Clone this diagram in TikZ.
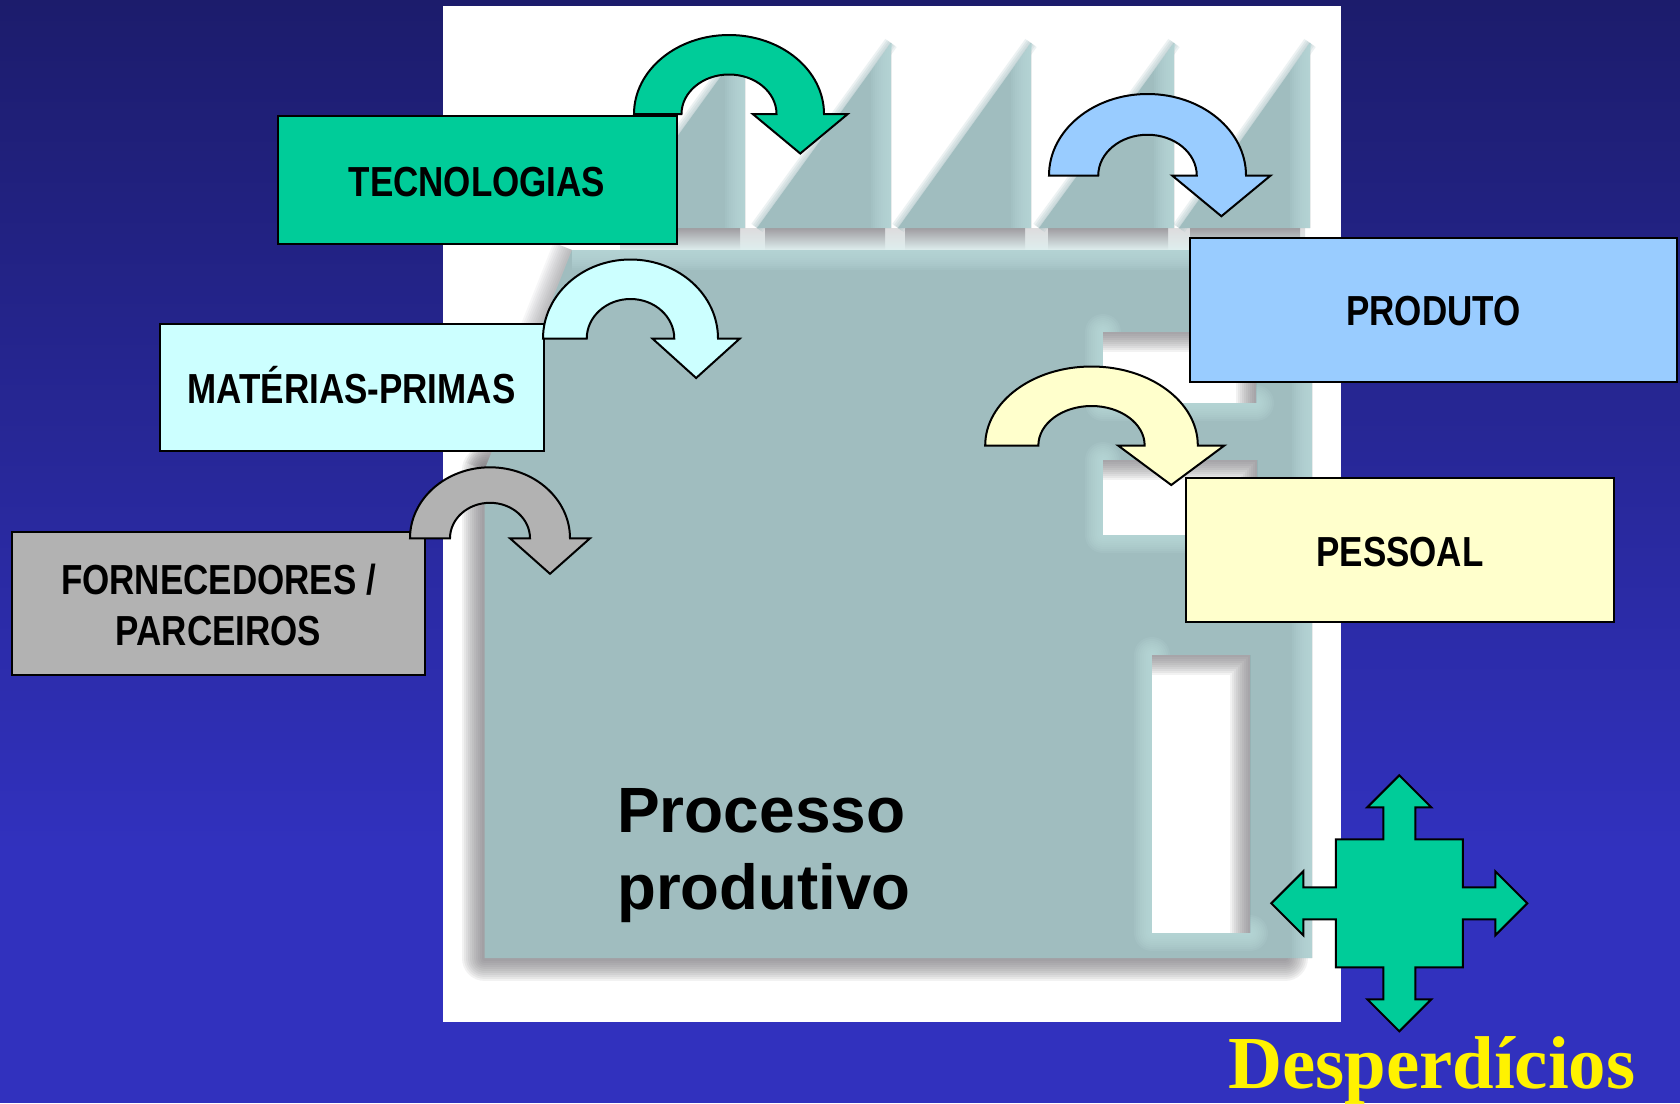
\documentclass[tikz,border=0pt]{standalone}
\usepackage{fontspec}
\setmainfont{Liberation Sans}
\newfontfamily\serifbold{Liberation Serif}[BoldFont={* Bold}]
\definecolor{bgtop}{RGB}{28,28,108}
\definecolor{bgbot}{RGB}{49,49,190}
\definecolor{factmain}{RGB}{160,189,191}
\definecolor{factlight}{RGB}{190,222,222}
\definecolor{factshade}{RGB}{118,114,120}
\definecolor{cgreen}{RGB}{0,204,153}
\definecolor{ccyan}{RGB}{204,255,255}
\definecolor{cgray}{RGB}{178,178,178}
\definecolor{cblue}{RGB}{153,204,255}
\definecolor{cyell}{RGB}{255,255,204}
\tikzset{
  boxnode/.style={draw=black,line width=2pt,inner sep=0pt,outer sep=0pt,text=black,
    font=\fontsize{42}{50.5}\selectfont\bfseries,align=center},
  oneline/.style={text height=32pt,text depth=0pt},
  arrowline/.style={draw=black,line width=2pt,line join=miter},
}
\newcommand\narrow[1]{\scalebox{0.833}[1]{#1}}
\newcommand\wideblur{46,42,38,34,30,26,22,18,14,10,6}
\newcommand\midblur{40,36,32,28,24,20,16,12,8,4}
\newcommand\haloblur{36,32,28,24,20,16,12,8,4}
\newcommand\toothblur{14,10,6,2}
% colour, macro holding the widths, opacity, cap, path
\newcommand\softstroke[5]{%
  \foreach \w in #2 {\draw[#1,line width=\w pt,opacity=#3,line join=round,line cap=#4] #5;}}
% a tooth of the roof: left x, right x
\newcommand\tooth[2]{%
  \softstroke{factmain}{\toothblur}{0.2}{butt}{(#1,-228) -- (#2,-43)}
  \fill[factmain] (#1,-228) -- (#2,-43) -- (#2,-228) -- cycle;
  \begin{scope}
    \clip (#1,-228) -- (#2,-43) -- (#2,-228) -- cycle;
    \softstroke{factlight}{\midblur}{0.13}{butt}{(#2,-43) -- (#2,-228)}
  \end{scope}}
% base shadow of a tooth
\newcommand\toothshade[2]{%
  \shade[top color=factshade!70!white,bottom color=factlight!50!white] (#1,-228) rectangle (#2,-250);}
% window: left, top, right, bottom
\newcommand\windowhole[4]{%
  \softstroke{factlight}{\haloblur}{0.14}{round}{(#1,-#2) -- (#1,-#4) -- (#3,-#4)}
  \fill[white] (#1,-#2) rectangle (#3,-#4);
  \begin{scope}
    \clip (#1,-#2) rectangle (#3,-#4);
    \softstroke{factshade}{\midblur}{0.09}{butt}{(#1,-#2) -- (#3,-#2) -- (#3,-#4)}
  \end{scope}}
% fill colour, centre x, base y, x radius, y radius
\newcommand\bentarrow[5]{%
  \begin{scope}[shift={(#2,-#3)},xscale=#4,yscale=#5]
    \path[arrowline,fill=#1] (-1,0) arc[start angle=180,end angle=0,radius=1]
      -- (1.25,0) -- (0.75,-0.5) -- (0.25,0) -- (0.5,0)
      arc[start angle=0,end angle=180,radius=0.5] -- cycle;
  \end{scope}}
\begin{document}
\begin{tikzpicture}[x=1pt,y=1pt]
\useasboundingbox (0,0) rectangle (1680,-1103);
% background
\fill[bgbot] (0,-850) rectangle (1680,-1103);
\shade[top color=bgtop,bottom color=bgbot,shading angle=0] (0,0) rectangle (1680,-851);
% sheet
\fill[white] (443,-6) rectangle (1341,-1022);
% factory: soft drop shadows
\begin{scope}
  \clip (443,-6) rectangle (1341,-1022);
  \softstroke{factshade}{\wideblur}{0.09}{round}{(484.5,-470) -- (484.5,-958) -- (1285,-958)}
  \softstroke{factshade}{\midblur}{0.06}{butt}{(572,-250) -- (484.5,-470)}
  \shade[top color=factshade!25!white,bottom color=factlight!50!white] (620,-228) rectangle (1305,-250);
  \toothshade{620}{740}
  \toothshade{765}{885}
  \toothshade{905}{1025}
  \toothshade{1048}{1168}
  \toothshade{1190}{1300}
\end{scope}
% factory: teeth
\tooth{611}{745}
\tooth{757}{891}
\tooth{898}{1031}
\tooth{1039}{1174}
\tooth{1179}{1310}
% factory: body
\fill[factmain] (572,-250) -- (1312,-250) -- (1312,-958) -- (484.5,-958) -- (484.5,-470) -- cycle;
\begin{scope}
  \clip (572,-250) -- (1312,-250) -- (1312,-958) -- (484.5,-958) -- (484.5,-470) -- cycle;
  \softstroke{factlight}{\midblur}{0.13}{butt}{(572,-250) -- (1312,-250) -- (1312,-958)}
\end{scope}
% factory: windows
\windowhole{1103}{332}{1256}{403}
\windowhole{1103}{460}{1257}{535}
\windowhole{1152}{655}{1250}{933}
% boxes
\node[boxnode,oneline,fill=cgreen,minimum width=399pt,minimum height=128pt] (tec) at (477,-180) {\narrow{TECNOLOGIAS}};
\node[boxnode,oneline,fill=ccyan,minimum width=384pt,minimum height=127pt] (mat) at (351.5,-387.5) {\narrow{MATÉRIAS-PRIMAS}};
\node[boxnode,fill=cgray,minimum width=413pt,minimum height=143pt] (for) at (218.5,-603.5) {\rule{0pt}{33pt}\narrow{FORNECEDORES /}\\\narrow{PARCEIROS}};
\node[boxnode,oneline,fill=cblue,minimum width=487pt,minimum height=144pt] (pro) at (1433.5,-309.5) {\narrow{PRODUTO}};
\node[boxnode,oneline,fill=cyell,minimum width=428pt,minimum height=144pt] (pes) at (1400,-550) {\narrow{PESSOAL}};
% bent arrows
\bentarrow{cgreen}{729}{114}{95}{79}
\bentarrow{cblue}{1147.5}{175.5}{98.5}{81.5}
\bentarrow{cyell}{1091.5}{445.5}{106.3}{79}
\bentarrow{ccyan}{630.5}{338.5}{87.5}{79}
\bentarrow{cgray}{490}{538.3}{80}{71}
% four-way arrow
\path[arrowline,fill=cgreen,shift={(1399.3,-903.3)}]
  (0,128) -- (32,96) -- (16,96) -- (16,64) -- (63.5,64) -- (63.5,16) -- (96,16) -- (96,32)
  -- (128,0) -- (96,-32) -- (96,-16) -- (63.5,-16) -- (63.5,-64) -- (16,-64) -- (16,-96) -- (32,-96)
  -- (0,-128) -- (-32,-96) -- (-16,-96) -- (-16,-64) -- (-63.5,-64) -- (-63.5,-16) -- (-96,-16) -- (-96,-32)
  -- (-128,0) -- (-96,32) -- (-96,16) -- (-63.5,16) -- (-63.5,64) -- (-16,64) -- (-16,96) -- (-32,96) -- cycle;
% labels
\node[anchor=base west,inner sep=0pt,font=\fontsize{64}{77}\selectfont\bfseries,text=black] (proc) at (617,-832) {Processo};
\node[anchor=base west,inner sep=0pt,font=\fontsize{63.6}{77}\selectfont\bfseries,text=black] (prod) at (617,-909) {produtivo};
\node[anchor=base west,inner sep=0pt,font=\serifbold\fontsize{74.8}{80}\selectfont\bfseries,text=yellow] (desp) at (1228,-1088) {Desperdícios};
\end{tikzpicture}
\end{document}
